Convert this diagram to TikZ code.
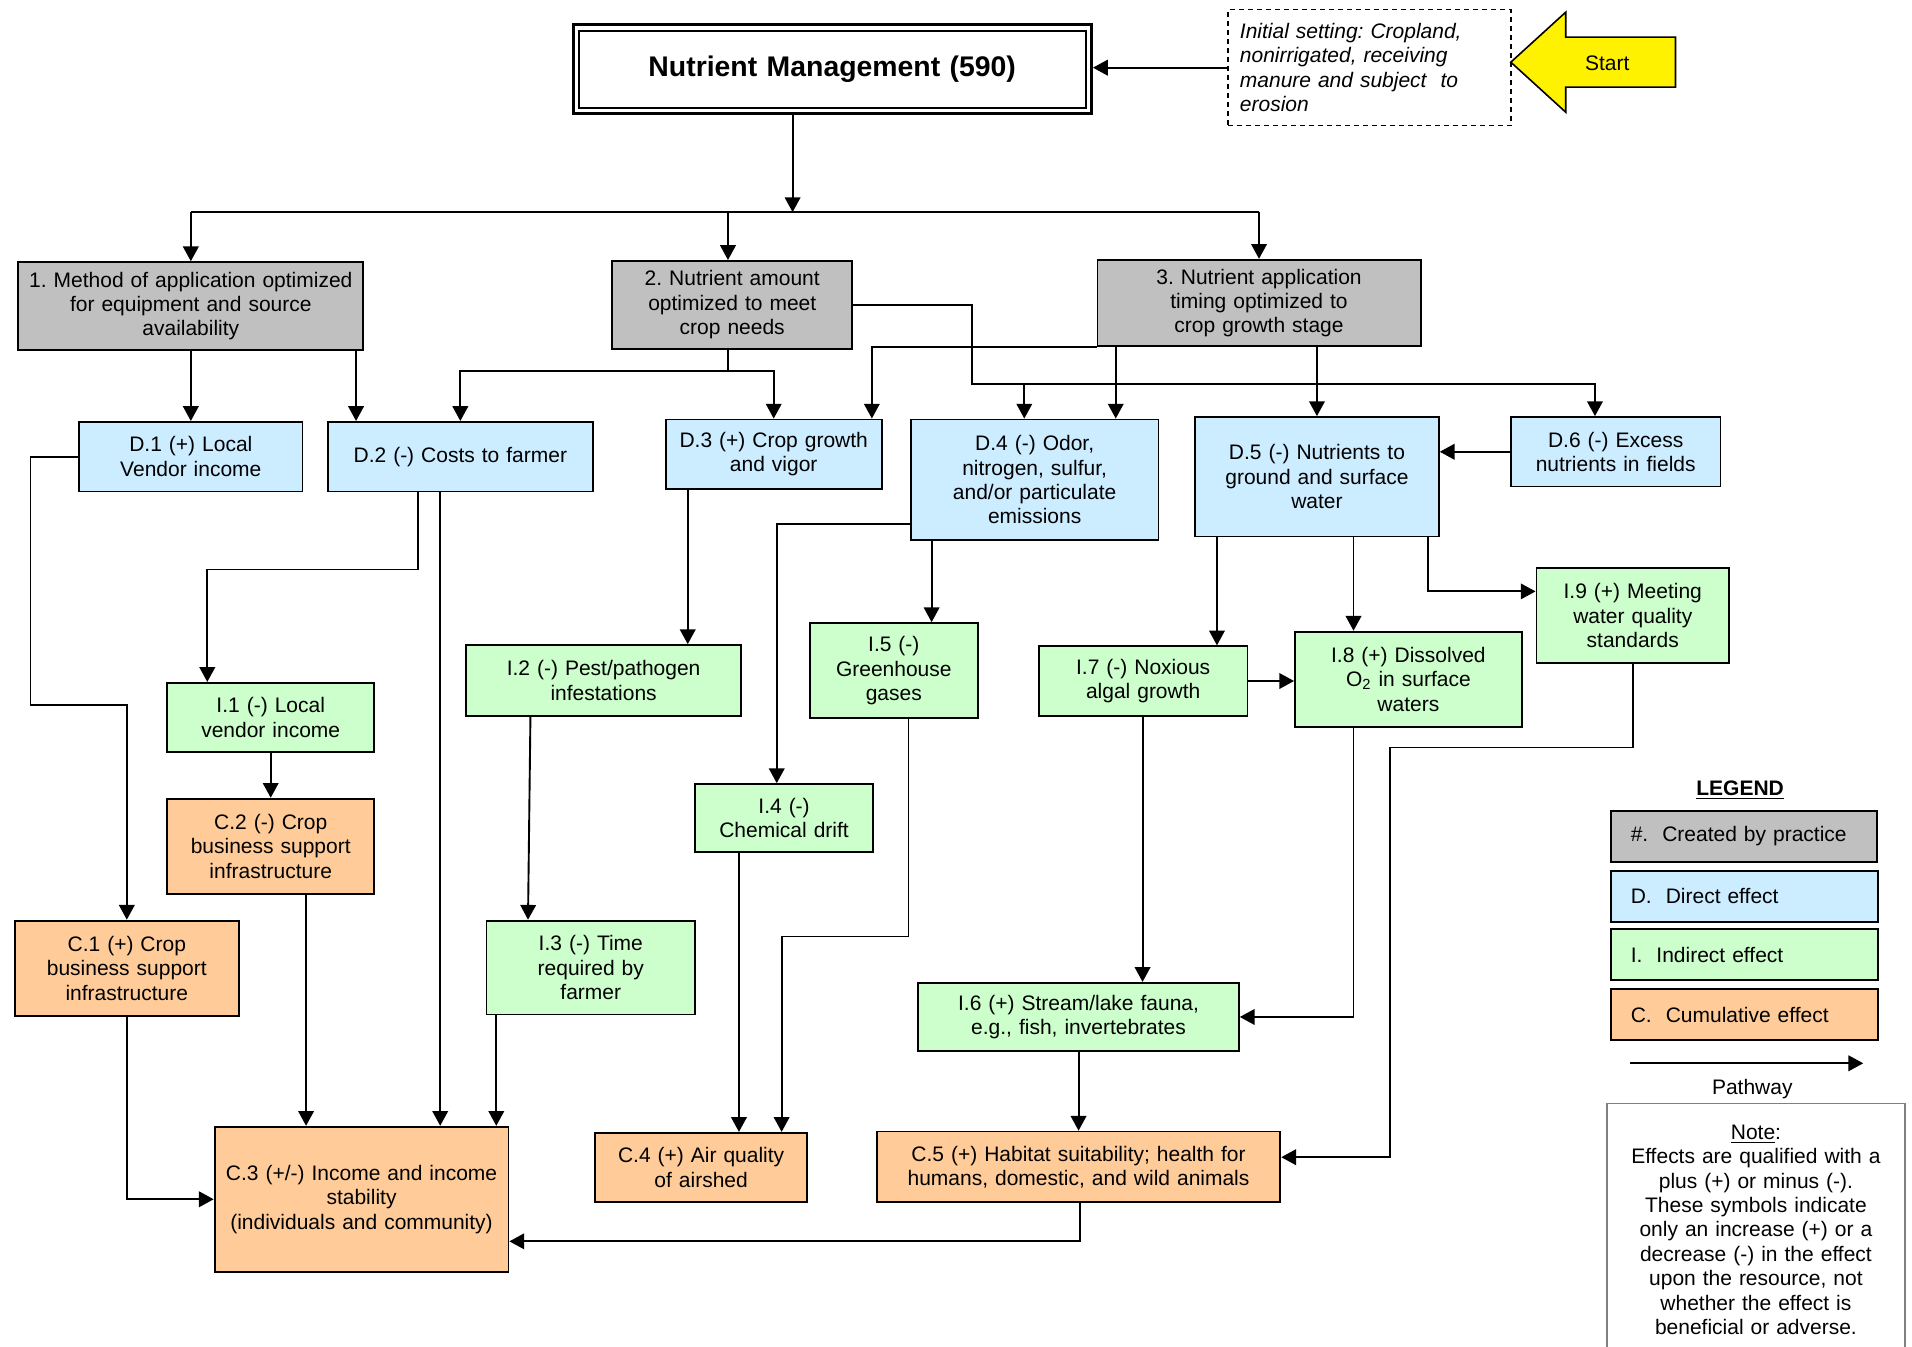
\documentclass[tikz,border=0pt]{standalone}
\usepackage{fontspec}
\setmainfont{Liberation Sans}
\usetikzlibrary{arrows.meta}
\frenchspacing

\definecolor{cgray}{HTML}{C0C0C0}
\definecolor{cblue}{HTML}{CCECFF}
\definecolor{cgreen}{HTML}{CCFFCC}
\definecolor{corange}{HTML}{FFCC99}
\definecolor{cnote}{HTML}{808080}

% one drawing unit in pt
\def\bxu{0.61}

% \mkbox[pad]{name}{x1}{y1}{x2}{y2}{style}{text}: a box given by its corners
\newcommand\mkbox[8][2]{%
  \pgfmathsetmacro\bw{(#5-#3)*\bxu}%
  \pgfmathsetmacro\bh{(#6-#4)*\bxu}%
  \pgfmathsetmacro\tw{\bw-2*#1}%
  \node[minimum width=\bw pt, minimum height=\bh pt, text width=\tw pt,
        inner xsep=#1pt, inner ysep=0pt, #7] (#2) at ({(#3+#5)/2},{(#4+#6)/2}) {#8};}

\begin{document}
\begin{tikzpicture}[x=0.61pt, y=-0.61pt,
  box/.style={draw, line width=0.9pt, align=center, font=\fontsize{10.5}{12.2}\selectfont},
  gbox/.style={box, fill=cgray},
  dbox/.style={box, fill=cblue},
  ibox/.style={box, fill=cgreen},
  cbox/.style={box, fill=corange},
  ln/.style={line width=0.95pt},
  arr/.style={ln, -{Triangle[length=7.4pt,width=7.8pt]}}]

\useasboundingbox (0,0) rectangle (1568,1104);
\fill[white] (0,0) rectangle (1568,1104);
\clip (0,0) rectangle (1568,1104);

% ---------- header ----------
\mkbox{title}{470}{20}{895}{93}{draw, line width=1.6pt, align=center,
  font=\bfseries\fontsize{14.2}{16}\selectfont}{Nutrient Management (590)}
\draw[line width=1pt] ([shift={(6,7)}]title.north west) rectangle ([shift={(-6,-6)}]title.south east);

\mkbox[6]{init}{1007}{8}{1239}{103}{draw, dash pattern=on 2.5pt off 2pt, line width=0.7pt,
  align=left, font=\itshape\fontsize{10.5}{12.2}\selectfont}%
  {Initial setting: Cropland,\\ nonirrigated, receiving\\ manure and subject\ \ to\\ erosion}

\filldraw[fill=yellow, draw=black, line width=0.8pt]
  (1239,51) -- (1284,10) -- (1284,30.5) -- (1374,30.5) -- (1374,71.5)
  -- (1284,71.5) -- (1284,92) -- cycle;
\node[font=\fontsize{10.5}{12.2}\selectfont] (start) at (1318,52) {Start};

% ---------- practices ----------
\mkbox{b1}{15}{215}{298}{287}{gbox}{1. Method of application optimized\\ for equipment and source\\ availability}
\mkbox{b2}{502}{214}{699}{286}{gbox}{2. Nutrient amount\\ optimized to meet\\ crop needs}
\mkbox{b3}{900}{213}{1165}{284}{gbox}{3. Nutrient application\\ timing optimized to\\ crop growth stage}

% ---------- direct effects ----------
\mkbox{d1}{65}{346}{248}{403}{dbox}{D.1 (+) Local\\ Vendor income}
\mkbox{d2}{269}{346}{486}{403}{dbox}{D.2 (-) Costs to farmer}
\mkbox{d3}{546}{344}{723}{401}{dbox}{D.3 (+) Crop growth\\ and vigor}
\mkbox{d4}{747}{344}{950}{443}{dbox}{D.4 (-) Odor,\\ nitrogen, sulfur,\\ and/or particulate\\ emissions}
\mkbox{d5}{980}{342}{1180}{440}{dbox}{D.5 (-) Nutrients to\\ ground and surface\\ water}
\mkbox{d6}{1239}{342}{1411}{399}{dbox}{D.6 (-) Excess\\ nutrients in fields}

% ---------- indirect effects ----------
\mkbox{i1}{137}{560}{307}{617}{ibox}{I.1 (-) Local\\ vendor income}
\mkbox{i2}{382}{529}{608}{587}{ibox}{I.2 (-) Pest/pathogen\\ infestations}
\mkbox{i3}{399}{755}{570}{832}{ibox}{I.3 (-) Time\\ required by\\ farmer}
\mkbox{i4}{570}{643}{716}{699}{ibox}{I.4 (-)\\ Chemical drift}
\mkbox{i5}{664}{511}{802}{589}{ibox}{I.5 (-)\\ Greenhouse\\ gases}
\mkbox{i6}{753}{806}{1016}{862}{ibox}{I.6 (+) Stream/lake fauna,\\ e.g., fish, invertebrates}
\mkbox{i7}{852}{530}{1023}{587}{ibox}{I.7 (-) Noxious\\ algal growth}
\mkbox{i8}{1062}{518}{1248}{596}{ibox}{I.8 (+) Dissolved\\ O\textsubscript{2} in surface\\ waters}
\mkbox{i9}{1260}{466}{1418}{544}{ibox}{I.9 (+) Meeting\\ water quality\\ standards}

% ---------- cumulative effects ----------
\mkbox{c1}{12}{755}{196}{833}{cbox}{C.1 (+) Crop\\ business support\\ infrastructure}
\mkbox{c2}{137}{655}{307}{733}{cbox}{C.2 (-) Crop\\ business support\\ infrastructure}
\mkbox{c3}{176}{924}{417}{1043}{cbox}{C.3 (+/-) Income and income\\ stability\\ (individuals and community)}
\mkbox{c4}{488}{929}{662}{986}{cbox}{C.4 (+) Air quality\\ of airshed}
\mkbox{c5}{719}{928}{1050}{986}{cbox}{C.5 (+) Habitat suitability; health for\\ humans, domestic, and wild animals}

% ---------- legend ----------
\node[font=\bfseries\fontsize{10.5}{12.2}\selectfont] (legend) at (1427,648) {\underline{LEGEND}};
\mkbox{lg1}{1321}{665}{1539}{707}{gbox, align=left}{\hspace*{8pt}\#.\ \ Created by practice}
\mkbox{lg2}{1321}{714}{1540}{756}{dbox, align=left}{\hspace*{8pt}D.\ \ Direct effect}
\mkbox{lg3}{1321}{762}{1540}{804}{ibox, align=left}{\hspace*{8pt}I.\ \ Indirect effect}
\mkbox{lg4}{1321}{811}{1540}{853}{cbox, align=left}{\hspace*{8pt}C.\ \ Cumulative effect}
\coordinate (pw1) at (1337,872);
\coordinate (pw2) at (1528,872);
\draw[arr] (pw1) -- (pw2);
\node[font=\fontsize{10.5}{12.2}\selectfont] (pwlabel) at (1437,893) {Pathway};
\mkbox{note}{1318}{905}{1562}{1112}{draw=cnote, line width=0.8pt, align=center,
  font=\fontsize{10.5}{12.2}\selectfont}%
  {\underline{Note}:\\ Effects are qualified with a\\ plus (+) or minus (-).\\ These symbols indicate\\
   only an increase (+) or a\\ decrease (-) in the effect\\ upon the resource, not\\
   whether the effect is\\ beneficial or adverse.}

% ---------- pathways ----------
\draw[arr] (init.west) -- (init.west -| title.east);

\coordinate (bus) at (650,174);
\draw[arr] (title.south -| bus) -- (bus);
\draw[ln] (b1.north |- bus) -- (b3.north |- bus);
\draw[arr] (b1.north |- bus) -- (b1.north);
\draw[arr] (bus -| 597,0) -- (b2.north -| 597,0);
\draw[arr] (b3.north |- bus) -- (b3.north);

% from practice 1
\draw[arr] (b1.south) -- (d1.north);
\draw[arr] (b1.south -| 292,0) -- (d2.north -| 292,0);

% from practice 2
\coordinate (j2) at (597,304);
\draw[ln] (b2.south -| j2) -- (j2);
\draw[arr] (j2) -| (d2.north);
\draw[arr] (j2) -| (d3.north);
\coordinate (k) at (797,315);
\draw[arr] (b2.east) -| (k) -| (d6.north -| 1308,0);
\draw[arr] (k -| 840,0) -- (d4.north -| 840,0);

% from practice 3
\draw[arr] (b3.south west) -| (d3.north -| 715,0);
\draw[arr] (b3.south -| 915,0) -- (d4.north -| 915,0);
\draw[arr] (b3.south -| d5.north) -- (d5.north);
\draw[arr] (d6.west) -- (d6.west -| d5.east);

% from direct effects
\draw[arr] (d1.west) -| (25,578) -| (c1.north);
\draw[arr] (d2.south -| 343,0) |- (170,467) -- (i1.north -| 170,0);
\draw[arr] (d2.south -| 361,0) -- (c3.north -| 361,0);
\draw[arr] (d3.south -| 564,0) -- (i2.north -| 564,0);
\draw[arr] (d4.west |- 0,430) -| (i4.north -| 637,0);
\draw[arr] (d4.south -| 764,0) -- (i5.north -| 764,0);
\draw[arr] (d5.south -| 998,0) -- (i7.north -| 998,0);
\draw[arr] (d5.south -| 1110,0) -- (i8.north -| 1110,0);
\draw[arr] (d5.south -| 1171,0) |- (i9.west |- 0,485);

% from indirect effects
\draw[arr] (i1.south) -- (c2.north);
\draw[arr] (i2.south -| 435,0) -- (i3.north -| 433,0);
\draw[arr] (i3.south -| 407,0) -- (c3.north -| 407,0);
\draw[arr] (i4.south -| 606,0) -- (c4.north -| 606,0);
\draw[arr] (i5.south -| 745,0) |- (641,768) -- (c4.north -| 641,0);
\draw[arr] (i7.east) -- (i7.east -| i8.west);
\draw[arr] (i7.south -| 937,0) -- (i6.north -| 937,0);
\draw[arr] (i8.south -| 1110,0) |- (i6.east);
\draw[arr] (i6.south) -- (c5.north -| i6.south);
\draw[arr] (i9.south) |- (1140,613) |- (c5.east |- 0,949);

% from cumulative effects
\draw[arr] (c1.south) |- (c3.west);
\draw[arr] (c2.south -| 251,0) -- (c3.north -| 251,0);
\draw[arr] (c5.south -| 886,0) |- (c3.east |- 0,1018);

\end{tikzpicture}
\end{document}
